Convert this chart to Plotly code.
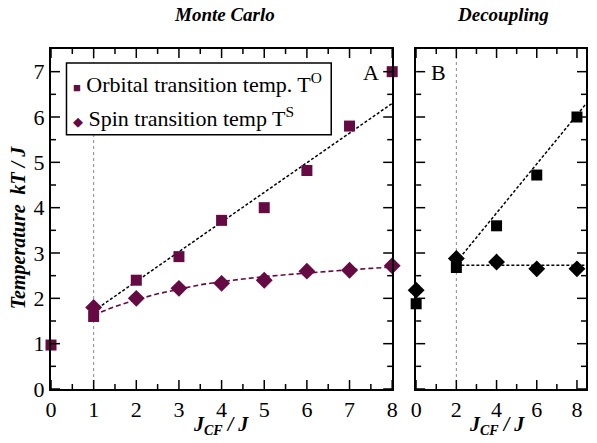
import plotly.graph_objects as go

# ---- Data: Panel A (Monte Carlo) ----
a_jcf = [0, 1, 2, 3, 4, 5, 6, 7, 8]
a_orbital = [0.97, 1.6, 2.4, 2.92, 3.72, 4.0, 4.82, 5.8, 7.0]
a_spin_x = [1, 2, 3, 4, 5, 6, 7, 8]
a_spin = [1.8, 2.0, 2.22, 2.33, 2.4, 2.6, 2.62, 2.72]
a_ofit_x = [1, 8]
a_ofit_y = [1.72, 6.3]
a_sfit_x = [1, 1.5, 2, 2.5, 3, 3.5, 4, 4.5, 5, 5.5, 6, 6.5, 7, 7.5, 8]
a_sfit_y = [1.63, 1.82, 1.97, 2.1, 2.2, 2.3, 2.37, 2.43, 2.48, 2.52, 2.56, 2.6, 2.63, 2.66, 2.69]
a_vline = 1

# ---- Data: Panel B (Decoupling) ----
b_jcf = [0, 2, 4, 6, 8]
b_orbital = [1.88, 2.68, 3.6, 4.72, 6.0]
b_spin = [2.18, 2.88, 2.8, 2.65, 2.65]
b_ofit_x = [2, 8.45]
b_ofit_y = [2.8, 6.29]
b_sfit_x = [2, 8.45]
b_sfit_y = [2.73, 2.73]
b_vline = 2

# ---- Ticks ----
a_major_x = [0, 1, 2, 3, 4, 5, 6, 7, 8]
a_minor_x = [0.5, 1.5, 2.5, 3.5, 4.5, 5.5, 6.5, 7.5]
b_major_x = [0, 2, 4, 6, 8]
b_minor_x = [1, 3, 5, 7]
major_y = [0, 1, 2, 3, 4, 5, 6, 7]
minor_y = [0.5, 1.5, 2.5, 3.5, 4.5, 5.5, 6.5]

legend_labels = ["Orbital transition temp. T<sup>O</sup>", "Spin transition temp T<sup>S</sup>"]

y_range = [0, 7.5]
a_x_range = [0, 8]
b_x_range = [0, 8.45]
maroon = "#660a44"
serif = "Liberation Serif, Times New Roman, serif"

# layout geometry (screen pixels; the page body adds an 8px offset)
OFF = 8
PL, PR, PT, PB = 50.5, 586.0, 49.0, 389.5   # plot frame on screen
W, H = 597, 443
A_RIGHT, B_LEFT = 392.0, 416.0
MAJ_LEN, MIN_LEN = 9, 5


def fx(px):
    return (px - PL) / (PR - PL)


def fy(py):
    return (PB - py) / (PB - PT)


fig = go.Figure()

# Panel A
fig.add_trace(go.Scatter(x=[a_vline, a_vline], y=y_range, mode="lines",
                         line=dict(color="#888888", width=1, dash="dot"),
                         showlegend=False, xaxis="x", yaxis="y"))
fig.add_trace(go.Scatter(x=a_ofit_x, y=a_ofit_y, mode="lines",
                         line=dict(color="black", width=1.5, dash="3px,2px"),
                         showlegend=False, xaxis="x", yaxis="y"))
fig.add_trace(go.Scatter(x=a_sfit_x, y=a_sfit_y, mode="lines",
                         line=dict(color=maroon, width=1.6, dash="5px,3px"),
                         showlegend=False, xaxis="x", yaxis="y"))
fig.add_trace(go.Scatter(x=a_jcf, y=a_orbital, mode="markers", cliponaxis=False,
                         marker=dict(symbol="square", size=11, color=maroon),
                         name=legend_labels[0], showlegend=False, xaxis="x", yaxis="y"))
fig.add_trace(go.Scatter(x=a_spin_x, y=a_spin, mode="markers", cliponaxis=False,
                         marker=dict(symbol="diamond", size=13, color=maroon),
                         name=legend_labels[1], showlegend=False, xaxis="x", yaxis="y"))

# Panel B
fig.add_trace(go.Scatter(x=[b_vline, b_vline], y=y_range, mode="lines",
                         line=dict(color="#888888", width=1, dash="dot"),
                         showlegend=False, xaxis="x2", yaxis="y2"))
fig.add_trace(go.Scatter(x=b_ofit_x, y=b_ofit_y, mode="lines",
                         line=dict(color="black", width=1.5, dash="3px,2px"),
                         showlegend=False, xaxis="x2", yaxis="y2"))
fig.add_trace(go.Scatter(x=b_sfit_x, y=b_sfit_y, mode="lines",
                         line=dict(color="black", width=1.5, dash="3px,2px"),
                         showlegend=False, xaxis="x2", yaxis="y2"))
fig.add_trace(go.Scatter(x=b_jcf, y=b_orbital, mode="markers", cliponaxis=False,
                         marker=dict(symbol="square", size=11, color="black"),
                         showlegend=False, xaxis="x2", yaxis="y2"))
fig.add_trace(go.Scatter(x=b_jcf, y=b_spin, mode="markers", cliponaxis=False,
                         marker=dict(symbol="diamond", size=13, color="black"),
                         showlegend=False, xaxis="x2", yaxis="y2"))

tickfont = dict(family=serif, size=22, color="black")
axis = dict(showline=True, linecolor="black", linewidth=2, mirror=True,
            ticks="", showgrid=False, zeroline=False, automargin=False,
            tickmode="array", tickfont=tickfont)

fig.update_layout(
    template="none",
    width=W, height=H,
    margin=dict(l=PL - OFF, r=W - (PR - OFF), t=PT - OFF, b=H - (PB - OFF), pad=0,
                autoexpand=False),
    paper_bgcolor="white", plot_bgcolor="white",
    xaxis=dict(domain=[0, fx(A_RIGHT)], range=a_x_range, tickvals=a_major_x, anchor="y", **axis),
    yaxis=dict(domain=[0, 1], range=y_range, tickvals=major_y, anchor="x", **axis),
    xaxis2=dict(domain=[fx(B_LEFT), 1], range=b_x_range, tickvals=b_major_x, anchor="y2", **axis),
    yaxis2=dict(domain=[0, 1], range=y_range, tickvals=major_y, anchor="x2", side="right", **axis),
    showlegend=False,
)

# inside tick marks on all four sides of both frames
plot_h = PB - PT
tick_line = dict(color="black", width=1.5)


def add_x_ticks(xref, yref, vals, length):
    f = length / plot_h
    for v in vals:
        fig.add_shape(type="line", xref=xref, yref=yref, x0=v, x1=v, y0=0, y1=f,
                      line=tick_line, layer="above")
        fig.add_shape(type="line", xref=xref, yref=yref, x0=v, x1=v, y0=1, y1=1 - f,
                      line=tick_line, layer="above")


def add_y_ticks(xref, yref, vals, length, width_px):
    f = length / width_px
    for v in vals:
        fig.add_shape(type="line", xref=xref, yref=yref, y0=v, y1=v, x0=0, x1=f,
                      line=tick_line, layer="above")
        fig.add_shape(type="line", xref=xref, yref=yref, y0=v, y1=v, x0=1, x1=1 - f,
                      line=tick_line, layer="above")


a_w = A_RIGHT - PL
b_w = PR - B_LEFT
add_x_ticks("x", "y domain", a_major_x, MAJ_LEN)
add_x_ticks("x", "y domain", a_minor_x, MIN_LEN)
add_y_ticks("x domain", "y", major_y, MAJ_LEN, a_w)
add_y_ticks("x domain", "y", minor_y, MIN_LEN, a_w)
add_x_ticks("x2", "y2 domain", b_major_x, MAJ_LEN)
add_x_ticks("x2", "y2 domain", b_minor_x, MIN_LEN)
add_y_ticks("x2 domain", "y2", major_y, MAJ_LEN, b_w)
add_y_ticks("x2 domain", "y2", minor_y, MIN_LEN, b_w)

# legend box
fig.add_shape(type="rect", xref="paper", yref="paper",
              x0=fx(66), x1=fx(331), y0=fy(135), y1=fy(63),
              fillcolor="white", line=dict(color="black", width=1.5), layer="above")
symbols = ["■", "◆"]
for sym, lab, cy in zip(symbols, legend_labels, (83, 117)):
    fig.add_annotation(text=f'<span style="color:{maroon};font-size:13px">{sym}</span> {lab}',
                       x=fx(71), y=fy(cy), xref="paper", yref="paper",
                       xanchor="left", yanchor="middle", align="left", showarrow=False,
                       font=dict(family=serif, size=22, color="black"))

title_font = dict(family=serif, size=19, color="black")
fig.add_annotation(text="<b><i>Monte Carlo</i></b>", x=fx(224), y=fy(14),
                   xref="paper", yref="paper", xanchor="center", yanchor="middle",
                   showarrow=False, font=title_font)
fig.add_annotation(text="<b><i>Decoupling</i></b>", x=fx(503), y=fy(14),
                   xref="paper", yref="paper", xanchor="center", yanchor="middle",
                   showarrow=False, font=title_font)
fig.add_annotation(text="<b><i>Temperature  kT / J</i></b>", x=fx(18), y=fy(228),
                   xref="paper", yref="paper", xanchor="center", yanchor="middle",
                   showarrow=False, textangle=-90,
                   font=dict(family=serif, size=20, color="black"))
for cx in (221, 497):
    fig.add_annotation(text="<b><i>J<sub>CF</sub> / J</i></b>", x=fx(cx), y=fy(426),
                       xref="paper", yref="paper", xanchor="center", yanchor="middle",
                       showarrow=False, font=dict(family=serif, size=20, color="black"))
fig.add_annotation(text="A", x=fx(371), y=fy(73), xref="paper", yref="paper",
                   xanchor="center", yanchor="middle",
                   showarrow=False, font=dict(family=serif, size=22, color="black"))
fig.add_annotation(text="B", x=fx(438), y=fy(73), xref="paper", yref="paper",
                   xanchor="center", yanchor="middle",
                   showarrow=False, font=dict(family=serif, size=22, color="black"))

fig.write_html("out.html")
